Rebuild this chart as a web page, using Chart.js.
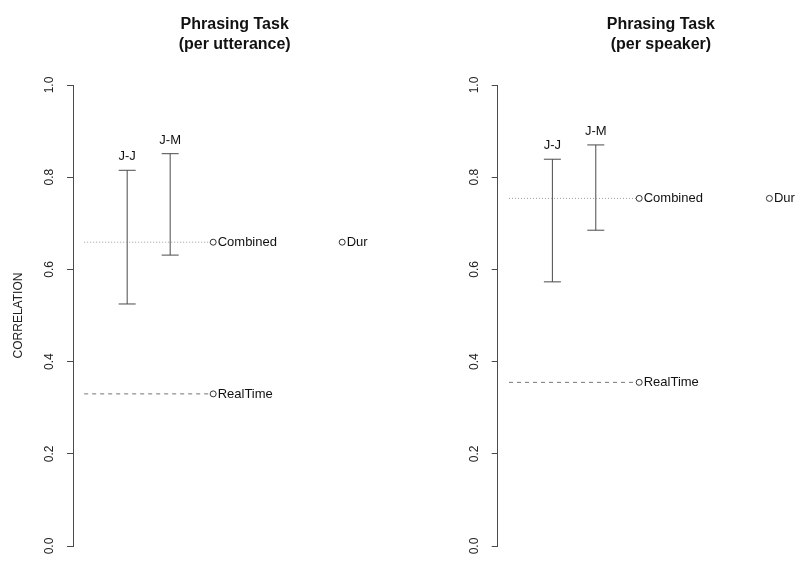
<!DOCTYPE html>
<html>
<head>
<meta charset="utf-8">
<script src="https://cdn.jsdelivr.net/npm/chart.js@4/dist/chart.umd.min.js"></script>
<style>
  html, body { margin: 0; padding: 0; background: #fff; }
  #wrap { position: relative; width: 800px; height: 566px; }
  canvas { position: absolute; top: 0; }
  #c1 { left: 0; }
  #c2 { left: 400px; }
</style>
</head>
<body>
<div id="wrap">
  <canvas id="c1" width="400" height="566"></canvas>
  <canvas id="c2" width="400" height="566"></canvas>
</div>
<script>
// ---- data ----
const mainTitle = "Phrasing Task";
const panelSubtitles = ["(per utterance)", "(per speaker)"];
const yAxisTitle = "CORRELATION";
const barLabels = ["J-J", "J-M"];
const barPositions = [1, 2];
const uttLow = [0.525, 0.631];
const uttHigh = [0.815, 0.851];
const spkLow = [0.573, 0.685];
const spkHigh = [0.839, 0.870];
const pointLabels = ["Combined", "RealTime", "Dur"];
const pointPositions = [3, 3, 6];
const uttPoints = [0.659, 0.330, 0.659];
const spkPoints = [0.754, 0.355, 0.754];
const yTickValues = [0.0, 0.2, 0.4, 0.6, 0.8, 1.0];

const FONT = "'Liberation Sans', Arial, Helvetica, sans-serif";
const AXIS_COLOR = '#4a4a4a';

const textPlugin = {
  id: 'textPlugin',
  afterDatasetsDraw(chart, args, opts) {
    const {ctx} = chart;
    const xs = chart.scales.x, ys = chart.scales.y;
    ctx.save();
    ctx.fillStyle = '#111';
    // titles
    ctx.font = "bold 16px " + FONT;
    ctx.textAlign = 'center';
    ctx.textBaseline = 'alphabetic';
    const tx = xs.getPixelForValue(3.5);
    ctx.fillText(mainTitle, tx, 29);
    ctx.fillText(opts.subtitle, tx, 48.5);
    // bar labels
    ctx.font = "13px " + FONT;
    opts.high.forEach((v, i) => {
      ctx.fillText(barLabels[i], xs.getPixelForValue(barPositions[i]), ys.getPixelForValue(v) - 10);
    });
    // point labels
    ctx.textAlign = 'left';
    ctx.textBaseline = 'middle';
    opts.points.forEach((v, i) => {
      ctx.fillText(pointLabels[i], xs.getPixelForValue(pointPositions[i]) + 4.5, ys.getPixelForValue(v) + 0.5);
    });
    ctx.restore();
  }
};

function makeChart(id, low, high, pts, subtitle, axisWidth, showYTitle) {
  const datasets = [];
  // open circle points with reference lines
  const styles = [[1, 2], [4, 4]];
  const lineColors = ['#999', '#777'];
  for (let i = 0; i < 2; i++) {
    datasets.push({
      data: [{x: 0, y: pts[i]}, {x: pointPositions[i], y: pts[i]}],
      showLine: true,
      borderColor: lineColors[i],
      borderWidth: 1,
      borderDash: styles[i],
      pointRadius: [0, 3],
      pointBorderWidth: 1,
      pointBorderColor: '#333',
      pointBackgroundColor: '#fff',
      pointStyle: 'circle'
    });
  }
  datasets.push({
    data: [{x: pointPositions[2], y: pts[2]}],
    showLine: false,
    pointRadius: 3,
    pointBorderWidth: 1,
    pointBorderColor: '#333',
    pointBackgroundColor: '#fff'
  });
  // error bars
  for (let i = 0; i < low.length; i++) {
    datasets.push({
      data: [{x: barPositions[i], y: low[i]}, {x: barPositions[i], y: high[i]}],
      showLine: true,
      borderColor: AXIS_COLOR,
      borderWidth: 1,
      pointStyle: 'line',
      pointRadius: 8.5,
      pointBorderWidth: 1,
      pointBorderColor: AXIS_COLOR
    });
  }
  return new Chart(document.getElementById(id), {
    type: 'scatter',
    data: { datasets },
    options: {
      responsive: false,
      animation: false,
      events: [],
      layout: { padding: { left: 0, right: 400 - axisWidth - 6.5 * (showYTitle ? 43 : 43.4), top: 85, bottom: 20 } },
      plugins: {
        legend: { display: false },
        tooltip: { enabled: false },
        textPlugin: { subtitle, high, points: pts }
      },
      scales: {
        x: { type: 'linear', min: -0.26, max: 6.24, display: false },
        y: {
          type: 'linear', min: 0, max: 1,
          afterBuildTicks: (s) => { s.ticks = yTickValues.map(v => ({value: v})); },
          afterFit: (s) => { s.width = axisWidth; },
          border: { display: true, color: AXIS_COLOR, width: 1 },
          grid: { drawOnChartArea: false, drawTicks: true, tickLength: 6, color: AXIS_COLOR, tickColor: AXIS_COLOR },
          ticks: {
            minRotation: 90, maxRotation: 90,
            crossAlign: 'center',
            padding: 8.5,
            color: '#222',
            font: { family: FONT, size: 12 },
            callback: (v) => Number(v).toFixed(1)
          },
          title: {
            display: showYTitle, text: yAxisTitle, color: '#222',
            font: { family: FONT, size: 12 },
            padding: { top: 11, bottom: 0 }
          }
        }
      }
    },
    plugins: [textPlugin]
  });
}

makeChart('c1', uttLow, uttHigh, uttPoints, panelSubtitles[0], 73, true);
makeChart('c2', spkLow, spkHigh, spkPoints, panelSubtitles[1], 97.7, false);
</script>
</body>
</html>
